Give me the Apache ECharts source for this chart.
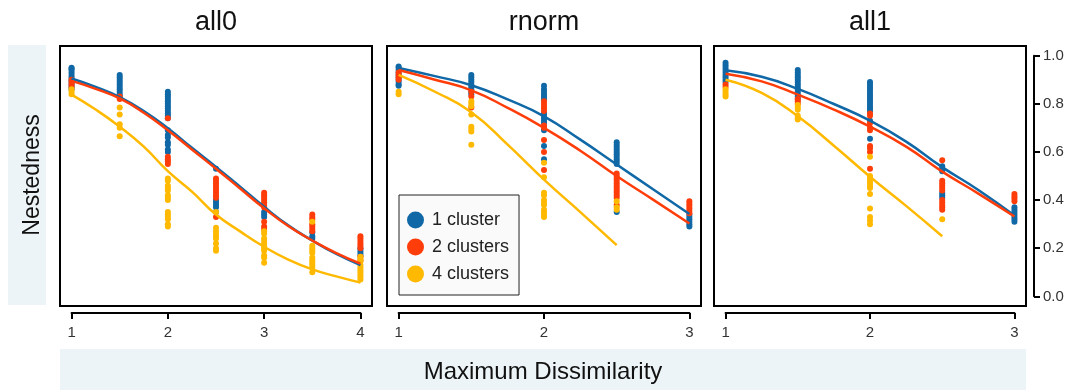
<!DOCTYPE html>
<html>
<head>
<meta charset="utf-8">
<script src="https://cdn.jsdelivr.net/npm/echarts@6/dist/echarts.min.js"></script>
<style>
  html, body { margin: 0; padding: 0; background: #fff; }
  #chart { width: 1072px; height: 390px; }
</style>
</head>
<body>
<div id="chart"></div>
<script>
// ---- Data -------------------------------------------------------------
const PANEL_TITLES = ['all0', 'rnorm', 'all1'];
const CLUSTER_NAMES = ['1 cluster', '2 clusters', '4 clusters'];
const X_TICKS_ALL0 = [1, 2, 3, 4];
const X_TICKS_3 = [1, 2, 3];
const Y_TICKS = [0, 0.2, 0.4, 0.6, 0.8, 1.0];

// fitted curves: all0
const ALL0_LINE_X = [1, 1.25, 1.5, 1.75, 2, 2.25, 2.5, 2.75, 3, 3.25, 3.5, 3.75, 4];
const ALL0_LINE_C1 = [0.905, 0.87, 0.828, 0.77, 0.698, 0.617, 0.538, 0.456, 0.372, 0.295, 0.232, 0.176, 0.13];
const ALL0_LINE_C2 = [0.895, 0.862, 0.822, 0.763, 0.69, 0.61, 0.53, 0.448, 0.366, 0.292, 0.232, 0.18, 0.136];
const ALL0_LINE_C4 = [0.838, 0.776, 0.705, 0.622, 0.52, 0.435, 0.34, 0.27, 0.206, 0.153, 0.112, 0.083, 0.057];
// observed values: all0
const ALL0_PTS_C1 = [
  [1, 0.95], [1, 0.945], [1, 0.94], [1, 0.93], [1, 0.92], [1, 0.91], [1, 0.90], [1, 0.89], [1, 0.88], [1, 0.87], [1, 0.86],
  [1.5, 0.92], [1.5, 0.91], [1.5, 0.90], [1.5, 0.89], [1.5, 0.88], [1.5, 0.87], [1.5, 0.86], [1.5, 0.85], [1.5, 0.84], [1.5, 0.83],
  [2, 0.85], [2, 0.84], [2, 0.83], [2, 0.82], [2, 0.81], [2, 0.80], [2, 0.79], [2, 0.78], [2, 0.77], [2, 0.76], [2, 0.75], [2, 0.74],
  [2, 0.69], [2, 0.67], [2, 0.66], [2, 0.64], [2, 0.63], [2, 0.61], [2, 0.60],
  [2.5, 0.53], [2.5, 0.40], [2.5, 0.39], [2.5, 0.38], [2.5, 0.37], [2.5, 0.35],
  [3, 0.35], [3, 0.34], [3, 0.33],
  [3.5, 0.265], [3.5, 0.25], [3.5, 0.24],
  [4, 0.20], [4, 0.19], [4, 0.18], [4, 0.17]
];
const ALL0_PTS_C2 = [
  [1, 0.90], [1, 0.89], [1, 0.88], [1, 0.87],
  [1.5, 0.83], [1.5, 0.82],
  [2, 0.74], [2, 0.58], [2, 0.57], [2, 0.56], [2, 0.55],
  [2.5, 0.49], [2.5, 0.48], [2.5, 0.47], [2.5, 0.46], [2.5, 0.45], [2.5, 0.44], [2.5, 0.43], [2.5, 0.42], [2.5, 0.41], [2.5, 0.33],
  [3, 0.43], [3, 0.42], [3, 0.41], [3, 0.40], [3, 0.39], [3, 0.38], [3, 0.37], [3, 0.31], [3, 0.29], [3, 0.28],
  [3.5, 0.34], [3.5, 0.33], [3.5, 0.32], [3.5, 0.30], [3.5, 0.29], [3.5, 0.28], [3.5, 0.27],
  [4, 0.25], [4, 0.24], [4, 0.23], [4, 0.22], [4, 0.21], [4, 0.20], [4, 0.165], [4, 0.15]
];
const ALL0_PTS_C4 = [
  [1, 0.86], [1, 0.85], [1, 0.84],
  [1.5, 0.785], [1.5, 0.755], [1.5, 0.715], [1.5, 0.70], [1.5, 0.665],
  [2, 0.49], [2, 0.48], [2, 0.46], [2, 0.45], [2, 0.44], [2, 0.42], [2, 0.41], [2, 0.40], [2, 0.35], [2, 0.34], [2, 0.33], [2, 0.32], [2, 0.30], [2, 0.29],
  [2.5, 0.35], [2.5, 0.285], [2.5, 0.27], [2.5, 0.26], [2.5, 0.25], [2.5, 0.24], [2.5, 0.22], [2.5, 0.20], [2.5, 0.19],
  [3, 0.27], [3, 0.26], [3, 0.24], [3, 0.23], [3, 0.22], [3, 0.21], [3, 0.20], [3, 0.19], [3, 0.17], [3, 0.16], [3, 0.14],
  [3.5, 0.31], [3.5, 0.21], [3.5, 0.20], [3.5, 0.19], [3.5, 0.18], [3.5, 0.16], [3.5, 0.15], [3.5, 0.14], [3.5, 0.13], [3.5, 0.12], [3.5, 0.10],
  [4, 0.165], [4, 0.155], [4, 0.145], [4, 0.13], [4, 0.12], [4, 0.11], [4, 0.10], [4, 0.09], [4, 0.08], [4, 0.07]
];

// fitted curves: rnorm
const RNORM_LINE_X = [1, 1.25, 1.5, 1.75, 2, 2.25, 2.5, 2.75, 3];
const RNORM_LINE_C1 = [0.949, 0.915, 0.877, 0.818, 0.748, 0.651, 0.548, 0.445, 0.342];
const RNORM_LINE_C2 = [0.94, 0.90, 0.856, 0.783, 0.70, 0.605, 0.50, 0.402, 0.303];
const RNORM_LINE_X4 = [1, 1.25, 1.5, 1.75, 2, 2.25, 2.5];
const RNORM_LINE_C4 = [0.92, 0.85, 0.765, 0.63, 0.485, 0.35, 0.213];
// observed values: rnorm
const RNORM_PTS_C1 = [
  [1, 0.955], [1, 0.95], [1, 0.94], [1, 0.93], [1, 0.92], [1, 0.91], [1, 0.90], [1, 0.89], [1, 0.88], [1, 0.875],
  [1.5, 0.92], [1.5, 0.91], [1.5, 0.90], [1.5, 0.89], [1.5, 0.88], [1.5, 0.87], [1.5, 0.86], [1.5, 0.85], [1.5, 0.84],
  [2, 0.875], [2, 0.86], [2, 0.85], [2, 0.84], [2, 0.83], [2, 0.82], [2, 0.76], [2, 0.75], [2, 0.74], [2, 0.73], [2, 0.72], [2, 0.70], [2, 0.69],
  [2, 0.625], [2, 0.57],
  [2.5, 0.64], [2.5, 0.63], [2.5, 0.62], [2.5, 0.61], [2.5, 0.60], [2.5, 0.59], [2.5, 0.58], [2.5, 0.57], [2.5, 0.56], [2.5, 0.55], [2.5, 0.35],
  [3, 0.34], [3, 0.33], [3, 0.32], [3, 0.31], [3, 0.30], [3, 0.29]
];
const RNORM_PTS_C2 = [
  [1, 0.93], [1, 0.92], [1, 0.91], [1, 0.90],
  [1.5, 0.85], [1.5, 0.83], [1.5, 0.785],
  [2, 0.81], [2, 0.80], [2, 0.79], [2, 0.78], [2, 0.77], [2, 0.71], [2, 0.70], [2, 0.65], [2, 0.60], [2, 0.525],
  [2.5, 0.51], [2.5, 0.50], [2.5, 0.49], [2.5, 0.48], [2.5, 0.47], [2.5, 0.46], [2.5, 0.45], [2.5, 0.44], [2.5, 0.43], [2.5, 0.42], [2.5, 0.41], [2.5, 0.38],
  [3, 0.395], [3, 0.385], [3, 0.375], [3, 0.365], [3, 0.355], [3, 0.345]
];
const RNORM_PTS_C4 = [
  [1, 0.85], [1, 0.84],
  [1.5, 0.81], [1.5, 0.80], [1.5, 0.79], [1.5, 0.755], [1.5, 0.705], [1.5, 0.695], [1.5, 0.685], [1.5, 0.63],
  [2, 0.555], [2, 0.495], [2, 0.43], [2, 0.42], [2, 0.40], [2, 0.39], [2, 0.38], [2, 0.36], [2, 0.35], [2, 0.34], [2, 0.33],
  [2.5, 0.395], [2.5, 0.37], [2.5, 0.36]
];

// fitted curves: all1
const ALL1_LINE_X = [1, 1.25, 1.5, 1.75, 2, 2.25, 2.5, 2.75, 3];
const ALL1_LINE_C1 = [0.939, 0.912, 0.862, 0.799, 0.73, 0.643, 0.537, 0.442, 0.336];
const ALL1_LINE_C2 = [0.925, 0.893, 0.838, 0.776, 0.705, 0.622, 0.518, 0.427, 0.332];
const ALL1_LINE_X4 = [1, 1.25, 1.5, 1.75, 2, 2.25, 2.5];
const ALL1_LINE_C4 = [0.90, 0.845, 0.748, 0.626, 0.497, 0.376, 0.25];
// observed values: all1
const ALL1_PTS_C1 = [
  [1, 0.97], [1, 0.96], [1, 0.95], [1, 0.94], [1, 0.93], [1, 0.92], [1, 0.91], [1, 0.90], [1, 0.89],
  [1.5, 0.94], [1.5, 0.93], [1.5, 0.92], [1.5, 0.91], [1.5, 0.90], [1.5, 0.89], [1.5, 0.88], [1.5, 0.87], [1.5, 0.86], [1.5, 0.85], [1.5, 0.84], [1.5, 0.83], [1.5, 0.82],
  [2, 0.89], [2, 0.88], [2, 0.87], [2, 0.86], [2, 0.85], [2, 0.84], [2, 0.83], [2, 0.82], [2, 0.81], [2, 0.80], [2, 0.79], [2, 0.78], [2, 0.77], [2, 0.73], [2, 0.655],
  [2.5, 0.54], [2.5, 0.53], [2.5, 0.52], [2.5, 0.43], [2.5, 0.42], [2.5, 0.41],
  [3, 0.37], [3, 0.36], [3, 0.35], [3, 0.34], [3, 0.33], [3, 0.32], [3, 0.31]
];
const ALL1_PTS_C2 = [
  [1, 0.88], [1, 0.87],
  [1.5, 0.82], [1.5, 0.81], [1.5, 0.80],
  [2, 0.76], [2, 0.75], [2, 0.72], [2, 0.70], [2, 0.69], [2, 0.625], [2, 0.615], [2, 0.60], [2, 0.53],
  [2.5, 0.565], [2.5, 0.48], [2.5, 0.47], [2.5, 0.46], [2.5, 0.45], [2.5, 0.44], [2.5, 0.40], [2.5, 0.39], [2.5, 0.38], [2.5, 0.37], [2.5, 0.36],
  [3, 0.425], [3, 0.415], [3, 0.405], [3, 0.395]
];
const ALL1_PTS_C4 = [
  [1, 0.86], [1, 0.85], [1, 0.84], [1, 0.83],
  [1.5, 0.795], [1.5, 0.785], [1.5, 0.775], [1.5, 0.75], [1.5, 0.74], [1.5, 0.735],
  [2, 0.58], [2, 0.50], [2, 0.49], [2, 0.48], [2, 0.47], [2, 0.46], [2, 0.45], [2, 0.425], [2, 0.365], [2, 0.33], [2, 0.315], [2, 0.30],
  [2.5, 0.32]
];

// ---- Layout & style ---------------------------------------------------
const COLORS = ['#1068a6', '#ff3d0a', '#ffb900'];
const FONT = 'Liberation Sans, Arial, sans-serif';
const BOX_TOP = 46, BOX_H = 260;
const Y_RANGE = [-0.04, 1.04];
const AXIS_Y = 313;          // detached x axis line
const Y_AXIS_X = 1034;       // detached right y axis line

const panels = [
  { title: PANEL_TITLES[0], left: 60,  width: 312, xr: [0.88, 4.12], ticks: X_TICKS_ALL0,
    lineX: [ALL0_LINE_X, ALL0_LINE_X, ALL0_LINE_X], lines: [ALL0_LINE_C1, ALL0_LINE_C2, ALL0_LINE_C4],
    pts: [ALL0_PTS_C1, ALL0_PTS_C2, ALL0_PTS_C4] },
  { title: PANEL_TITLES[1], left: 387, width: 314, xr: [0.92, 3.08], ticks: X_TICKS_3,
    lineX: [RNORM_LINE_X, RNORM_LINE_X, RNORM_LINE_X4], lines: [RNORM_LINE_C1, RNORM_LINE_C2, RNORM_LINE_C4],
    pts: [RNORM_PTS_C1, RNORM_PTS_C2, RNORM_PTS_C4] },
  { title: PANEL_TITLES[2], left: 714, width: 312, xr: [0.92, 3.08], ticks: X_TICKS_3,
    lineX: [ALL1_LINE_X, ALL1_LINE_X, ALL1_LINE_X4], lines: [ALL1_LINE_C1, ALL1_LINE_C2, ALL1_LINE_C4],
    pts: [ALL1_PTS_C1, ALL1_PTS_C2, ALL1_PTS_C4] }
];

const grid = [], xAxis = [], yAxis = [], series = [], graphic = [];

// background strips for the shared axis titles
graphic.push({ type: 'rect', z: -10, shape: { x: 8, y: 45, width: 38, height: 260 }, style: { fill: '#edf4f8' } });
graphic.push({ type: 'rect', z: -10, shape: { x: 60, y: 349, width: 966, height: 41 }, style: { fill: '#edf4f8' } });
graphic.push({ type: 'text', x: 33, y: 175, rotation: Math.PI / 2,
  style: { text: 'Nestedness', fontSize: 23, fontFamily: FONT, fill: '#111', align: 'center', verticalAlign: 'middle' } });
graphic.push({ type: 'text', x: 543, y: 372,
  style: { text: 'Maximum Dissimilarity', fontSize: 24, fontFamily: FONT, fill: '#111', align: 'center', verticalAlign: 'middle' } });

panels.forEach((p, i) => {
  // data panel with framed box
  const gi = grid.length;
  grid.push({ left: p.left, top: BOX_TOP, width: p.width, height: BOX_H, show: true,
    borderColor: '#000', borderWidth: 2, backgroundColor: 'transparent', containLabel: false });
  xAxis.push({ type: 'value', gridIndex: gi, min: p.xr[0], max: p.xr[1],
    axisLine: { show: false }, axisTick: { show: false }, axisLabel: { show: false }, splitLine: { show: false } });
  yAxis.push({ type: 'value', gridIndex: gi, min: Y_RANGE[0], max: Y_RANGE[1],
    axisLine: { show: false }, axisTick: { show: false }, axisLabel: { show: false }, splitLine: { show: false } });

  // observed points, then fitted curves on top
  p.pts.forEach((d, c) => {
    series.push({ type: 'scatter', name: CLUSTER_NAMES[c], xAxisIndex: gi, yAxisIndex: gi,
      data: d, symbol: 'circle', symbolSize: 6, z: 2,
      itemStyle: { color: COLORS[c], opacity: 1 }, emphasis: { disabled: true } });
  });
  p.lines.forEach((vals, c) => {
    series.push({ type: 'line', name: CLUSTER_NAMES[c], xAxisIndex: gi, yAxisIndex: gi,
      data: p.lineX[c].map((x, k) => [x, vals[k]]), smooth: true, showSymbol: false, z: 3,
      lineStyle: { color: COLORS[c], width: 2.5 }, itemStyle: { color: COLORS[c] }, emphasis: { disabled: true } });
  });

  // detached x axis spanning first to last tick
  const span = p.xr[1] - p.xr[0];
  const lo = p.ticks[0], hi = p.ticks[p.ticks.length - 1];
  const axLeft = p.left + (lo - p.xr[0]) / span * p.width;
  const axWidth = (hi - lo) / span * p.width;
  const ai = grid.length;
  grid.push({ left: axLeft, top: AXIS_Y - 10, width: axWidth, height: 10, show: false });
  xAxis.push({ type: 'value', gridIndex: ai, min: lo, max: hi, interval: 1, position: 'bottom',
    axisLine: { show: true, onZero: false, lineStyle: { color: '#000', width: 2 } },
    axisTick: { show: true, length: 6, lineStyle: { color: '#000', width: 2 } },
    axisLabel: { show: true, margin: 12, fontSize: 15, fontFamily: FONT, color: '#333', showMinLabel: true, showMaxLabel: true },
    splitLine: { show: false } });
  yAxis.push({ type: 'value', gridIndex: ai, show: false, min: 0, max: 1 });

  // panel title
  graphic.push({ type: 'text', x: p.left + p.width / 2, y: 23,
    style: { text: p.title, fontSize: 27, fontFamily: FONT, fill: '#111', align: 'center', verticalAlign: 'middle' } });
});

// detached right-hand y axis
const yTop = BOX_TOP + (Y_RANGE[1] - 1) / (Y_RANGE[1] - Y_RANGE[0]) * BOX_H;
const yH = 1 / (Y_RANGE[1] - Y_RANGE[0]) * BOX_H;
const ri = grid.length;
grid.push({ left: Y_AXIS_X - 20, top: yTop, width: 20, height: yH, show: false });
xAxis.push({ type: 'value', gridIndex: ri, show: false, min: 0, max: 1 });
yAxis.push({ type: 'value', gridIndex: ri, position: 'right', min: Y_TICKS[0], max: Y_TICKS[Y_TICKS.length - 1], interval: 0.2,
  axisLine: { show: true, onZero: false, lineStyle: { color: '#000', width: 2 } },
  axisTick: { show: true, length: 6, lineStyle: { color: '#000', width: 2 } },
  axisLabel: { show: true, margin: 9, fontSize: 15, fontFamily: FONT, color: '#333',
    formatter: v => v.toFixed(1) },
  splitLine: { show: false } });

const option = {
  animation: false,
  backgroundColor: '#fff',
  grid, xAxis, yAxis, series, graphic,
  legend: {
    data: CLUSTER_NAMES,
    orient: 'vertical',
    left: 399, top: 195,
    icon: 'circle',
    itemWidth: 17, itemHeight: 17, itemGap: 9,
    padding: [16, 10, 12, 8],
    backgroundColor: '#fafafa',
    borderColor: '#222', borderWidth: 1,
    selectedMode: false,
    textStyle: { fontSize: 18, fontFamily: FONT, color: '#222', padding: [0, 0, 0, 3] }
  }
};

const chart = echarts.init(document.getElementById('chart'), null, { renderer: 'canvas' });
chart.setOption(option);
</script>
</body>
</html>
